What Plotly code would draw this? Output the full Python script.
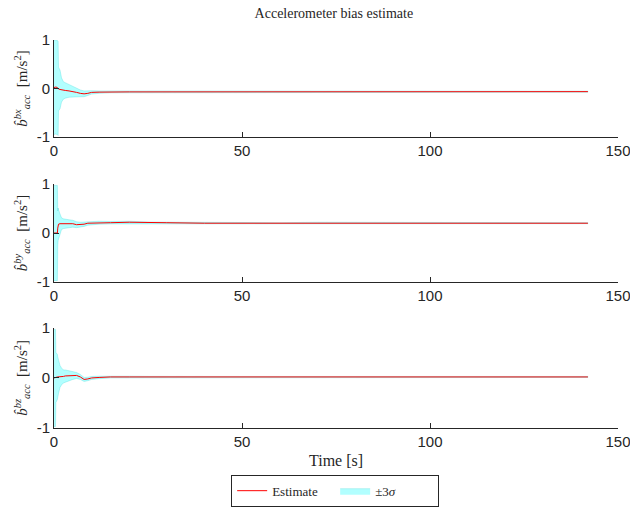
import plotly.graph_objects as go
from plotly.subplots import make_subplots

# time samples (s)
time = [0, 0.4, 0.5, 0.9, 1.0, 1.1, 1.2, 1.6, 2, 2.5, 3, 4, 5, 6, 7, 8, 9, 10, 12, 15, 20, 25, 30,
        40, 50, 60, 70, 80, 90, 100, 110, 120, 130, 142]

# estimates
est_x = [0.02, 0.03, 0.03, 0.02, 0.01, 0.0, -0.01, -0.02, -0.03, -0.04, -0.04, -0.05, -0.06, -0.08, -0.1,
         -0.11, -0.1, -0.08, -0.075, -0.07, -0.07, -0.07, -0.07,
         -0.07, -0.07, -0.065, -0.065, -0.065, -0.065, -0.065, -0.065, -0.065, -0.065, -0.065]
est_y = [0.0, 0.0, 0.0, 0.0, 0.1, 0.18, 0.18, 0.19, 0.19, 0.19, 0.19, 0.19, 0.19, 0.17, 0.17,
         0.18, 0.2, 0.2, 0.21, 0.21, 0.22, 0.21, 0.21,
         0.2, 0.2, 0.2, 0.21, 0.21, 0.2, 0.2, 0.2, 0.2, 0.2, 0.2]
est_z = [0.0, 0.0, 0.01, 0.02, 0.02, 0.02, 0.02, 0.03, 0.03, 0.03, 0.04, 0.04, 0.05, 0.05, 0.02,
         -0.03, -0.02, 0.0, 0.01, 0.02, 0.02, 0.02, 0.02,
         0.01, 0.02, 0.02, 0.02, 0.02, 0.02, 0.02, 0.02, 0.02, 0.02, 0.02]

# 3-sigma half widths
sig_x = [0.97, 0.97, 0.97, 0.97, 0.97, 0.97, 0.45, 0.4, 0.25, 0.18, 0.16, 0.13, 0.11, 0.09, 0.07,
         0.06, 0.045, 0.035, 0.025, 0.02, 0.015, 0.012, 0.01,
         0.01, 0.01, 0.01, 0.01, 0.01, 0.01, 0.01, 0.01, 0.01, 0.01, 0.01]
sig_y = [0.97, 0.97, 0.97, 0.97, 0.35, 0.33, 0.3, 0.2, 0.12, 0.1, 0.09, 0.08, 0.07, 0.06, 0.05,
         0.045, 0.04, 0.035, 0.03, 0.025, 0.02, 0.015, 0.012,
         0.01, 0.01, 0.01, 0.01, 0.01, 0.01, 0.01, 0.01, 0.01, 0.01, 0.01]
sig_z = [0.97, 0.97, 0.5, 0.45, 0.4, 0.37, 0.33, 0.22, 0.17, 0.13, 0.12, 0.1, 0.08, 0.06, 0.05,
         0.04, 0.035, 0.03, 0.025, 0.02, 0.015, 0.012, 0.01,
         0.01, 0.01, 0.01, 0.01, 0.01, 0.01, 0.01, 0.01, 0.01, 0.01, 0.01]

ylabels = ["<i>b̂</i><sup><i>bx</i></sup><sub><i>acc</i></sub>  [m/s<sup>2</sup>]",
           "<i>b̂</i><sup><i>by</i></sup><sub><i>acc</i></sub>  [m/s<sup>2</sup>]",
           "<i>b̂</i><sup><i>bz</i></sup><sub><i>acc</i></sub>  [m/s<sup>2</sup>]"]
xlabel = "Time [s]"
xticks = [0, 50, 100, 150]
yticks = [-1, 0, 1]
ytick_text = ["-1", "0", "1"]

serif = "Liberation Serif, DejaVu Serif, serif"
sans = "Liberation Sans, Arial, sans-serif"
axcol = "#262626"

fig = make_subplots(rows=3, cols=1, vertical_spacing=0.12)
domains = [[0.75, 1.0], [0.376, 0.629], [0.0, 0.258]]

for i, (est, sig) in enumerate([(est_x, sig_x), (est_y, sig_y), (est_z, sig_z)]):
    r = i + 1
    upper = [e + s for e, s in zip(est, sig)]
    lower = [e - s for e, s in zip(est, sig)]
    fig.add_trace(go.Scatter(
        x=time + time[::-1], y=upper + lower[::-1], fill="toself",
        fillcolor="rgba(0,255,255,0.3)", line=dict(width=0.5, color="rgba(0,200,200,0.45)"),
        name="±3<i>σ</i>", showlegend=(i == 0), legendrank=2, hoverinfo="skip"), row=r, col=1)
    fig.add_trace(go.Scatter(
        x=time, y=est, mode="lines", line=dict(color="#ff0000", width=1),
        name="Estimate", showlegend=(i == 0), legendrank=1), row=r, col=1)
    fig.update_xaxes(range=[0, 150], tickvals=xticks, ticks="inside", ticklen=5,
                     tickcolor=axcol, showline=True, linecolor=axcol, linewidth=1,
                     showgrid=False, zeroline=False, ticklabeloverflow="allow",
                     automargin=False, tickfont=dict(family=sans, size=15, color=axcol),
                     row=r, col=1)
    fig.update_yaxes(range=[-1, 1], tickvals=yticks, ticktext=ytick_text, ticks="inside", ticklen=5,
                     tickcolor=axcol, showline=True, linecolor=axcol, linewidth=1,
                     showgrid=False, zeroline=False, automargin=False,
                     tickfont=dict(family=sans, size=15, color=axcol),
                     title=dict(text=ylabels[i], font=dict(family=serif, size=15, color=axcol), standoff=5),
                     domain=domains[i], row=r, col=1)

fig.add_annotation(text=xlabel, xref="x3 domain", yref="paper", x=0.5, y=-0.0825,
                   xanchor="center", yanchor="middle", showarrow=False,
                   font=dict(family=serif, size=16, color=axcol))

fig.update_layout(
    width=630, height=508,
    margin=dict(l=54, r=12, t=40, b=80),
    paper_bgcolor="white", plot_bgcolor="white",
    title=dict(text="Accelerometer bias estimate", x=0.53, xanchor="center", y=0.975, yanchor="middle",
               font=dict(family=serif, size=14, color=axcol)),
    legend=dict(orientation="h", xref="container", yref="container", x=0.532, xanchor="center",
                y=0.034, yanchor="middle",
                bordercolor=axcol, borderwidth=1, bgcolor="white", entrywidth=58,
                font=dict(family=serif, size=13, color=axcol), traceorder="normal"),
)

fig.write_html("out.html")
